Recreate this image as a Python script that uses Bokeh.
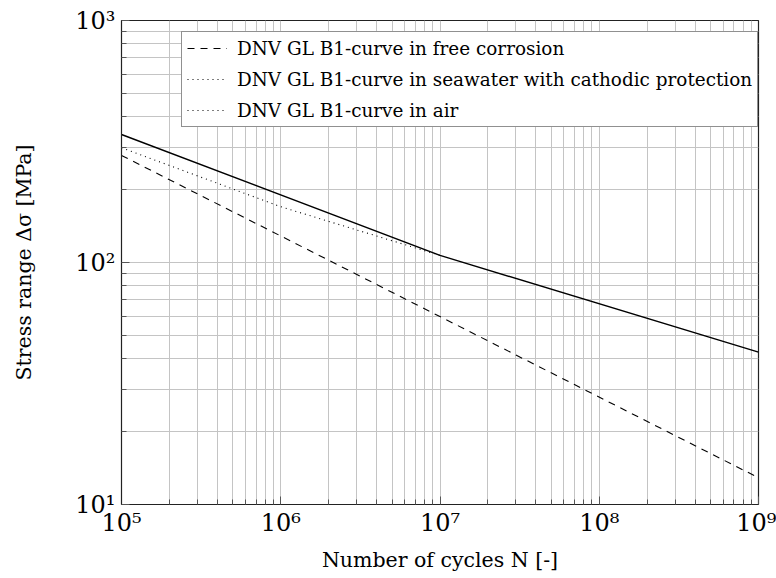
from bokeh.plotting import figure
from bokeh.models import Range1d, FixedTicker, Legend, LegendItem
from bokeh.embed import file_html
from bokeh.resources import INLINE

# Data (breakpoints of the S-N curves)
N_air = [1e5, 1e7, 1e9]
S_air = [338, 107, 42.6]
N_cp = [1e5, 1e6, 1e7]
S_cp = [298, 170, 107]
N_fc = [1e5, 1e9]
S_fc = [277, 12.9]

x_major = [1e5, 1e6, 1e7, 1e8, 1e9]
y_major = [1e1, 1e2, 1e3]
x_labels = {1e5: "10⁵", 1e6: "10⁶", 1e7: "10⁷", 1e8: "10⁸", 1e9: "10⁹"}
y_labels = {1e1: "10¹", 1e2: "10²", 1e3: "10³"}
legend_labels = ["DNV GL B1-curve in free corrosion",
                 "DNV GL B1-curve in seawater with cathodic protection",
                 "DNV GL B1-curve in air"]

x_minor = [m * d for d in x_major[:-1] for m in range(2, 10)]
y_minor = [m * d for d in y_major[:-1] for m in range(2, 10)]

FONT = "DejaVu Serif"

p = figure(width=776, height=578, x_axis_type="log", y_axis_type="log",
           x_range=Range1d(1e5, 1e9), y_range=Range1d(10, 1000),
           output_backend="svg", toolbar_location=None,
           min_border_left=121, min_border_right=18,
           min_border_top=20, min_border_bottom=74)
p.background_fill_color = "white"
p.border_fill_color = "white"
p.outline_line_color = "#222222"
p.outline_line_width = 1.2

xt = FixedTicker(ticks=x_major, minor_ticks=x_minor)
yt = FixedTicker(ticks=y_major, minor_ticks=y_minor)
p.xaxis.ticker = xt
p.yaxis.ticker = yt
p.xgrid.ticker = xt
p.ygrid.ticker = yt

for g in (p.xgrid, p.ygrid):
    g.grid_line_color = "#c4c4c4"
    g.grid_line_width = 1
    g.minor_grid_line_color = "#c4c4c4"
    g.minor_grid_line_width = 1

p.xaxis.major_label_overrides = x_labels
p.yaxis.major_label_overrides = y_labels

for ax in (p.xaxis, p.yaxis):
    ax.axis_line_color = "#222222"
    ax.major_tick_in = 8
    ax.major_tick_out = 0
    ax.minor_tick_in = 5
    ax.minor_tick_out = 0
    ax.major_tick_line_color = "#555555"
    ax.minor_tick_line_color = "#555555"
    ax.major_label_text_font = FONT
    ax.major_label_text_font_size = "24px"
    ax.major_label_text_color = "black"
    ax.axis_label_text_font = FONT
    ax.axis_label_text_font_size = "20.5px"
    ax.axis_label_text_font_style = "normal"
    ax.axis_label_text_color = "black"

p.xaxis.major_label_standoff = 4
p.yaxis.major_label_standoff = 6
p.xaxis.axis_label = "Number of cycles N [-]"
p.yaxis.axis_label = "Stress range Δσ [MPa]"
p.xaxis.axis_label_standoff = 8
p.yaxis.axis_label_standoff = 36

r_fc = p.line(N_fc, S_fc, line_color="black", line_width=1.1, line_dash="7 6")
r_cp = p.line(N_cp, S_cp, line_color="black", line_width=1.1, line_dash="1 4")
r_air = p.line(N_air, S_air, line_color="black", line_width=1.4)

legend = Legend(items=[LegendItem(label=legend_labels[0], renderers=[r_fc]),
                       LegendItem(label=legend_labels[1], renderers=[r_cp]),
                       LegendItem(label=legend_labels[2], renderers=[r_cp])],
                location=(60, 377))
legend.label_text_font = FONT
legend.label_text_font_size = "18.4px"
legend.label_text_color = "black"
legend.label_height = 22
legend.glyph_height = 22
legend.glyph_width = 40
legend.label_standoff = 10
legend.spacing = 9
legend.padding = 5
legend.margin = 0
legend.border_line_color = "#222222"
legend.border_line_width = 1
legend.background_fill_alpha = 1
p.add_layout(legend)

open("out.html", "w").write(file_html(p, INLINE))
